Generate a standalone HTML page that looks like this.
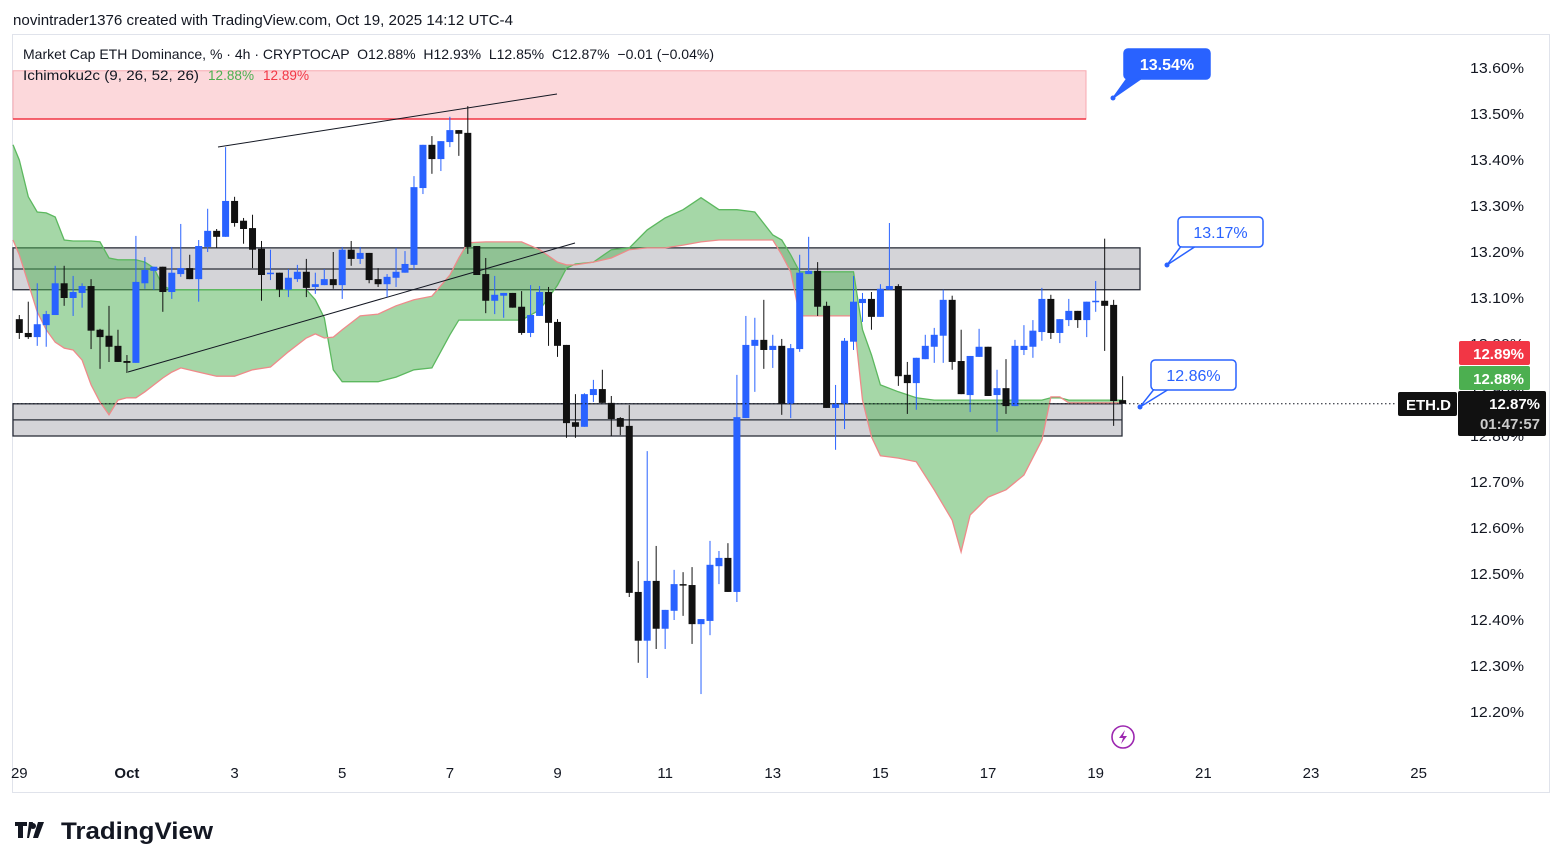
<!DOCTYPE html>
<html><head><meta charset="utf-8"><style>
html,body{margin:0;padding:0;background:#fff;}
svg{display:block;font-family:"Liberation Sans",sans-serif;}
text{white-space:pre;}
</style></head><body>
<svg id="chart" width="1563" height="868" viewBox="0 0 1563 868" xmlns="http://www.w3.org/2000/svg">
<rect x="0" y="0" width="1563" height="868" fill="#fff"/>
<text x="13" y="25" font-size="15" fill="#131722" textLength="500" lengthAdjust="spacingAndGlyphs">novintrader1376 created with TradingView.com, Oct 19, 2025 14:12 UTC-4</text>
<rect x="12.5" y="34.5" width="1537" height="758" fill="#fff" stroke="#e0e3eb"/>
<g id="zones"></g>
<g id="cloud"></g>
<g id="drawings"></g>
<g id="candles"></g>
<g id="overlay"></g>
<g id="axis"></g>
<text x="23" y="59" font-size="14" fill="#131722" textLength="691" lengthAdjust="spacingAndGlyphs">Market Cap ETH Dominance, % · 4h · CRYPTOCAP  O12.88%  H12.93%  L12.85%  C12.87%  −0.01 (−0.04%)</text>
<text x="23" y="80" font-size="14" fill="#131722" textLength="176" lengthAdjust="spacingAndGlyphs">Ichimoku2c (9, 26, 52, 26)</text>
<text x="208" y="80" font-size="14" fill="#4caf50" textLength="46" lengthAdjust="spacingAndGlyphs">12.88%</text>
<text x="263" y="80" font-size="14" fill="#f23645" textLength="46" lengthAdjust="spacingAndGlyphs">12.89%</text>
<g>
<path d="M15 822h12v4h-4v12h-5v-12h-3z M29 822h4l-4 16h-2z" fill="#131722"/>
<circle cx="33" cy="826" r="3" fill="#131722"/>
<path d="M38 822h6l-6 16h-5z" fill="#131722"/>
<text x="61" y="839" font-size="24" font-weight="bold" fill="#131722" textLength="152" lengthAdjust="spacingAndGlyphs">TradingView</text>
</g>
</svg>
<script>
// ---- data ----
const candleOpen = [13.054,13.024,13.015,13.041,13.063,13.132,13.100,13.111,13.126,13.031,13.018,12.996,12.963,12.959,13.132,13.159,13.168,13.113,13.152,13.165,13.141,13.211,13.246,13.233,13.311,13.268,13.252,13.207,13.152,13.155,13.118,13.141,13.157,13.124,13.128,13.141,13.128,13.205,13.185,13.198,13.141,13.130,13.144,13.155,13.172,13.339,13.433,13.402,13.439,13.465,13.459,13.213,13.152,13.094,13.105,13.111,13.081,13.024,13.061,13.113,13.048,12.998,12.830,12.820,12.889,12.902,12.872,12.839,12.822,12.461,12.355,12.485,12.381,12.420,12.478,12.476,12.391,12.398,12.517,12.535,12.461,12.839,12.996,13.009,12.987,12.996,12.870,12.989,13.152,13.159,13.083,12.861,12.870,13.005,13.089,13.098,13.059,13.118,13.126,12.933,12.915,12.967,12.994,13.018,13.096,12.963,12.889,12.972,12.994,12.889,12.904,12.865,12.987,12.994,13.026,13.098,13.024,13.052,13.072,13.052,13.092,13.094,13.085,12.878];
const candleHigh = [13.063,13.092,13.132,13.072,13.170,13.170,13.148,13.132,13.141,13.033,13.083,13.031,12.976,13.235,13.189,13.168,13.168,13.211,13.261,13.194,13.226,13.294,13.250,13.428,13.320,13.274,13.281,13.224,13.205,13.155,13.163,13.172,13.185,13.155,13.163,13.200,13.211,13.224,13.211,13.198,13.165,13.152,13.209,13.202,13.365,13.433,13.452,13.441,13.494,13.465,13.517,13.213,13.187,13.148,13.111,13.111,13.115,13.128,13.126,13.124,13.054,12.998,12.891,12.893,12.922,12.944,12.887,12.841,12.867,12.528,12.767,12.561,12.422,12.509,12.504,12.515,12.402,12.572,12.550,12.567,12.933,13.061,13.057,13.096,13.020,13.011,13.000,13.194,13.233,13.178,13.092,12.911,13.013,13.148,13.111,13.113,13.130,13.263,13.130,12.961,12.970,13.020,13.035,13.118,13.105,13.031,12.974,13.033,12.994,12.944,12.967,13.009,13.041,13.052,13.122,13.107,13.054,13.098,13.072,13.092,13.137,13.229,13.096,12.930];
const candleLow = [13.011,13.011,12.996,12.994,13.063,13.083,13.061,13.079,12.989,12.946,12.961,12.961,12.937,12.959,13.120,13.118,13.070,13.098,13.146,13.141,13.092,13.200,13.209,13.233,13.255,13.218,13.165,13.094,13.139,13.102,13.102,13.135,13.102,13.109,13.128,13.120,13.098,13.170,13.174,13.132,13.124,13.102,13.124,13.155,13.161,13.326,13.370,13.376,13.428,13.409,13.196,13.150,13.067,13.065,13.057,13.079,13.020,13.015,13.061,12.996,12.972,12.796,12.796,12.820,12.874,12.872,12.800,12.802,12.450,12.307,12.274,12.337,12.337,12.400,12.409,12.348,12.239,12.367,12.478,12.461,12.439,12.839,12.896,12.946,12.948,12.846,12.839,12.983,13.152,13.061,12.861,12.770,12.815,12.987,13.048,13.031,13.059,13.118,12.909,12.848,12.857,12.967,12.959,12.959,12.944,12.891,12.852,12.972,12.887,12.809,12.848,12.865,12.976,12.970,13.007,13.011,13.002,13.039,13.035,13.015,13.070,12.985,12.822,12.870];
const candleClose = [13.024,13.015,13.043,13.065,13.132,13.100,13.113,13.126,13.029,13.015,12.994,12.961,12.959,13.135,13.161,13.168,13.113,13.155,13.165,13.141,13.213,13.246,13.233,13.311,13.263,13.250,13.205,13.150,13.155,13.118,13.144,13.157,13.122,13.130,13.141,13.128,13.205,13.185,13.198,13.139,13.130,13.146,13.157,13.174,13.341,13.433,13.402,13.441,13.465,13.457,13.211,13.150,13.094,13.107,13.111,13.079,13.024,13.063,13.113,13.046,12.996,12.828,12.820,12.891,12.902,12.872,12.837,12.820,12.459,12.355,12.485,12.381,12.422,12.478,12.476,12.391,12.402,12.520,12.535,12.461,12.841,12.998,13.009,12.987,12.996,12.870,12.991,13.155,13.159,13.081,12.861,12.870,13.007,13.092,13.098,13.059,13.120,13.126,12.930,12.915,12.970,12.996,13.020,13.096,12.961,12.891,12.974,12.994,12.887,12.904,12.865,12.996,12.996,13.029,13.098,13.024,13.054,13.072,13.052,13.092,13.094,13.083,12.876,12.870];
const cloudIndex = [-1,0,1,2,3,4,5,6,7,8,9,10,11,12,13,14,15,16,17,18,20,22,24,26,28,30,32,33,34,35,36,38,40,42,44,46,48,49,50,52,54,56,58,60,61,62,64,66,68,70,72,74,76,78,80,82,84,85,86,87,90,93,94,95,96,98,100,102,104,105,106,108,110,112,114,115,116,117,119,121,123];
const spanA = [13.433,13.400,13.320,13.287,13.285,13.276,13.226,13.224,13.224,13.224,13.222,13.187,13.183,13.183,13.183,13.178,13.165,13.126,13.118,13.118,13.118,13.118,13.118,13.118,13.118,13.118,13.118,13.096,13.057,12.944,12.918,12.918,12.918,12.928,12.944,12.948,13.020,13.052,13.052,13.052,13.052,13.052,13.074,13.128,13.165,13.174,13.178,13.205,13.209,13.248,13.274,13.292,13.318,13.292,13.292,13.287,13.237,13.226,13.194,13.157,13.157,13.157,13.031,12.976,12.911,12.896,12.883,12.878,12.878,12.878,12.878,12.878,12.878,12.878,12.878,12.883,12.883,12.878,12.878,12.878,12.878];
const spanB = [13.226,13.194,13.132,13.070,13.031,13.004,12.991,12.987,12.965,12.911,12.874,12.846,12.878,12.883,12.883,12.896,12.911,12.926,12.939,12.948,12.939,12.930,12.930,12.944,12.950,12.983,13.013,13.022,13.013,13.015,13.031,13.061,13.065,13.083,13.096,13.104,13.150,13.187,13.220,13.222,13.222,13.222,13.205,13.178,13.172,13.172,13.178,13.187,13.205,13.209,13.209,13.215,13.222,13.226,13.226,13.226,13.226,13.194,13.157,13.061,13.061,13.061,12.878,12.798,12.757,12.752,12.744,12.683,12.617,12.548,12.628,12.667,12.683,12.715,12.791,12.885,12.885,12.872,12.872,12.872,12.872];
const priceTicks = ["13.60","13.50","13.40","13.30","13.20","13.10","13.00","12.90","12.80","12.70","12.60","12.50","12.40","12.30","12.20"];
const dateLabels = ["29","Oct","3","5","7","9","11","13","15","17","19","21","23","25"];
const dateLabelIndex = [0,12,24,36,48,60,72,84,96,108,120,132,144,156];
const lastPrice = 12.87;

// ---- scales ----
const X0 = 19.3, DX = 8.97;
function xOf(i){ return X0 + i*DX; }
function yOf(p){ return 68 + (13.60 - p)*460; }
const NS = "http://www.w3.org/2000/svg";
function mk(tag, attrs, parent){ const e=document.createElementNS(NS,tag); for(const k in attrs) e.setAttribute(k,attrs[k]); parent.appendChild(e); return e; }

// ---- zones ----
const zones = document.getElementById('zones');
let z = mk('rect',{x:13,y:yOf(13.594),width:1073,height:yOf(13.489)-yOf(13.594),fill:'#fcd8db',stroke:'#f7a9b0','stroke-width':1},zones);


let zl = mk('line',{x1:13,x2:1086,y1:yOf(13.489),y2:yOf(13.489),stroke:'#f23645','stroke-width':1.5},zones);


z = mk('rect',{x:13,y:yOf(13.209),width:1127,height:yOf(13.118)-yOf(13.209),fill:'#d4d4d8',stroke:'#2a2e39','stroke-width':1.3},zones);


zl = mk('line',{x1:13,x2:1140,y1:yOf(13.163),y2:yOf(13.163),stroke:'#2a2e39','stroke-width':1.3},zones);


z = mk('rect',{x:13,y:yOf(12.87),width:1109,height:yOf(12.800)-yOf(12.87),fill:'#d4d4d8',stroke:'#2a2e39','stroke-width':1.3},zones);


zl = mk('line',{x1:13,x2:1122,y1:yOf(12.835),y2:yOf(12.835),stroke:'#2a2e39','stroke-width':1.3},zones);



// ---- cloud ----
const cloud = document.getElementById('cloud');
function clipX(i){ return Math.max(13, xOf(i)); }
let ptsA = cloudIndex.map((i,k)=>clipX(i).toFixed(1)+','+yOf(spanA[k]).toFixed(1));
let ptsB = cloudIndex.map((i,k)=>clipX(i).toFixed(1)+','+yOf(spanB[k]).toFixed(1));
let poly = mk('polygon',{points:ptsA.concat(ptsB.slice().reverse()).join(' '),fill:'rgba(76,175,80,0.5)'},cloud);


let la = mk('polyline',{points:ptsA.join(' '),fill:'none',stroke:'#5cb85f','stroke-width':1.3},cloud);


let lb = mk('polyline',{points:ptsB.join(' '),fill:'none',stroke:'#ef8a8a','stroke-width':1.3},cloud);



// ---- drawings ----
const dr = document.getElementById('drawings');
let t1 = mk('line',{x1:218,y1:147,x2:557,y2:94,stroke:'#131722','stroke-width':1},dr);


let t2 = mk('line',{x1:128,y1:372,x2:575,y2:243,stroke:'#131722','stroke-width':1},dr);



// ---- candles ----
const cg = document.getElementById('candles');
for(let i=0;i<candleOpen.length;i++){
  const o=candleOpen[i],h=candleHigh[i],l=candleLow[i],c=candleClose[i];
  const col = c>=o ? '#2962ff' : '#111111';
  const g = mk('g',{},cg);
  
  
  const x=xOf(i);
  mk('line',{x1:x,x2:x,y1:yOf(h),y2:yOf(l),stroke:col,'stroke-width':1},g);
  const yt=yOf(Math.max(o,c)), yb=yOf(Math.min(o,c));
  mk('rect',{x:x-3.5,y:yt,width:7,height:Math.max(1.5,yb-yt),fill:col},g);
}

// ---- overlay: price line, callouts ----
const ov = document.getElementById('overlay');
let pl = mk('line',{x1:13,x2:1395,y1:yOf(lastPrice),y2:yOf(lastPrice),stroke:'#131722','stroke-width':1,'stroke-dasharray':'1.5 2.5'},ov);


function callout(name,x,y,w,label,px,py,filled){
  const g=mk('g',{},ov);
  
  
  mk('path',{d:`M${x+4} ${y+28} L${px} ${py} L${x+18} ${y+29}`,fill:filled?'#2962ff':'#fff',stroke:'#2962ff','stroke-width':1.5},g);
  mk('rect',{x:x,y:y,width:w,height:30,rx:4,fill:filled?'#2962ff':'#fff',stroke:'#2962ff','stroke-width':1.5},g);
  if(!filled) mk('rect',{x:x+2,y:y+26,width:18,height:3,fill:'#fff'},g);
  const t=mk('text',{x:x+w/2,y:y+21,'text-anchor':'middle','font-size':16,'font-weight':filled?'bold':'normal',fill:filled?'#fff':'#2962ff'},g);
  t.textContent=label;
  mk('circle',{cx:px,cy:py,r:2.5,fill:'#2962ff'},g);
}
callout('callout-13-54',1124,49,86,'13.54%',1113,98,true);
callout('callout-13-17',1178,217,85,'13.17%',1167,265,false);
callout('callout-12-86',1151,360,85,'12.86%',1140,407,false);

// ---- axes ----
const ax = document.getElementById('axis');
priceTicks.forEach(v=>{
  const t=mk('text',{x:1470,y:yOf(parseFloat(v))+5,'font-size':14.5,fill:'#131722',textLength:54,lengthAdjust:'spacingAndGlyphs'},ax);
  
  
  t.textContent=v+'%';
});
dateLabels.forEach((d,k)=>{
  const t=mk('text',{x:xOf(dateLabelIndex[k]),y:778,'text-anchor':'middle','font-size':15,'font-weight':d==='Oct'?'bold':'normal',fill:'#131722'},ax);
  
  
  t.textContent=d;
});
function tag(name,y,h,fill,lines,x,w){
  const g=mk('g',{},ax);
  
  
  mk('rect',{x:x,y:y,width:w,height:h,rx:2,fill:fill},g);
  lines.forEach((s,k)=>{const t=mk('text',{x:x+w-6,y:y+18+k*20,'text-anchor':'end','font-size':15,'font-weight':'bold',fill:k?'#cccccc':'#fff'},g);t.textContent=s;});
}
tag('span-b-price-tag',341,24,'#f23645',['12.89%'],1459,71);
tag('span-a-price-tag',366,24,'#4caf50',['12.88%'],1459,71);
tag('last-price-tag',391,45,'#111111',['12.87%','01:47:57'],1458,88);
tag('symbol-tag',392,24,'#111111',['ETH.D'],1398,59);
const bolt=mk('g',{},ax);


mk('circle',{cx:1123,cy:737,r:11,fill:'none',stroke:'#9c27b0','stroke-width':1.6},bolt);
mk('path',{d:'M1125 730 L1119 738 L1123 738 L1121 744 L1127 736 L1123 736 Z',fill:'#9c27b0'},bolt);
</script>
</body></html>
